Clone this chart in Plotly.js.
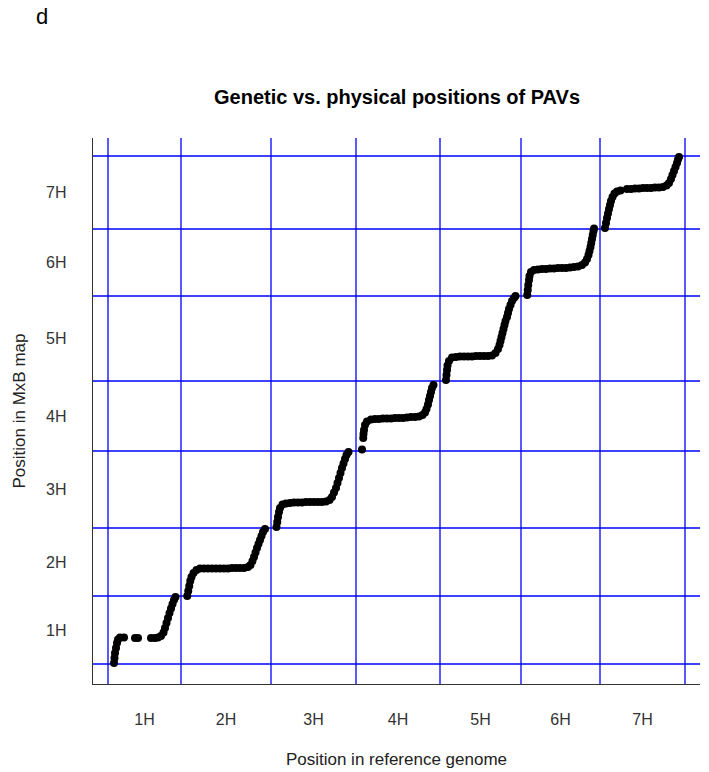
<!DOCTYPE html>
<html>
<head>
<meta charset="utf-8">
<script src="https://cdn.plot.ly/plotly-3.0.1.min.js"></script>
<style>
html,body{margin:0;padding:0;background:#fff;}
#chart{width:709px;height:772px;}
</style>
</head>
<body>
<div id="chart"></div>
<script>
// Chromosome names and lengths (physical in Mb, genetic in cM)
const chromNames = ['1H','2H','3H','4H','5H','6H','7H'];
const physLen = [584, 720, 680, 672, 648, 632, 680];
const genLen  = [136, 136, 154, 140, 170, 134, 146];

// Per-chromosome PAV positions: physical (Mb within chromosome), genetic (cM within chromosome)
const phys1H = [48,52,56,64,72,80,96,128,216,240,344,376,400,424,444,456,468,480,492,504,516,528,540];
const gen1H  = [2,12,22,32,42,49,53,53,52,52,52,52,53,56,63,72,82,92,102,111,120,128,134];

const phys2H = [50,58,66,74,84,100,124,152,184,216,248,280,312,344,376,408,440,472,504,536,556,572,584,596,608,620,632,644,656,672];
const gen2H  = [0,10,20,30,38,46,52,55,55,55,55,55,55,55,55,56,56,56,56,58,62,70,78,87,96,104,112,120,128,134];

const phys3H = [44,50,56,64,72,92,120,152,184,216,248,280,312,344,376,408,440,468,488,504,520,532,544,556,568,580,592,604,620];
const gen3H  = [2,12,22,32,40,47,49,50,51,51,51,52,52,52,52,52,53,56,62,71,80,90,100,110,120,129,138,146,152];

const phys4H = [48,58,60,64,72,88,120,152,184,216,248,280,312,344,376,408,440,472,504,532,552,564,576,584,592,600,608,620];
const gen4H  = [3,26,34,42,52,59,63,64,64,65,65,65,66,66,66,67,68,68,69,72,77,84,93,102,110,118,126,132];

const phys5H = [48,52,56,60,72,96,128,160,192,224,256,288,320,352,384,416,444,464,476,484,492,500,508,516,524,536,544,552,564,576,592,604];
const gen5H  = [2,12,22,31,40,47,48,49,49,49,49,50,50,50,50,51,56,64,72,80,88,96,104,112,120,128,136,144,152,160,166,170];

const phys6H = [50,54,58,64,68,80,104,136,168,200,232,264,296,328,360,392,424,456,488,512,528,540,548,556,562,568,574,580,584];
const gen6H  = [2,12,22,32,40,48,52,53,54,54,55,55,56,56,56,57,58,59,62,67,74,82,90,98,106,114,122,130,135];

const phys7H = [40,48,56,64,72,80,88,100,116,136,164,216,248,280,312,344,376,408,440,472,504,532,552,568,580,592,604,616,624,632];
const gen7H  = [2,12,22,31,40,48,56,64,71,75,77,80,80,81,81,82,82,82,83,83,84,87,92,100,108,116,124,132,139,144];

const physByChrom = [phys1H, phys2H, phys3H, phys4H, phys5H, phys6H, phys7H];
const genByChrom  = [gen1H, gen2H, gen3H, gen4H, gen5H, gen6H, gen7H];

// cumulative offsets
const physStart = [], genStart = [];
let ps = 0, gs = 0;
for (let i = 0; i < chromNames.length; i++) {
  physStart.push(ps); genStart.push(gs);
  ps += physLen[i]; gs += genLen[i];
}
const physTotal = ps, genTotal = gs;
const physBounds = physStart.concat([physTotal]);
const genBounds = genStart.concat([genTotal]);
const physMid = physStart.map((s, i) => s + physLen[i] / 2);
const genMid = genStart.map((s, i) => s + genLen[i] / 2);

const xs = [], ys = [];
for (let i = 0; i < chromNames.length; i++) {
  physByChrom[i].forEach((p, j) => {
    xs.push(physStart[i] + p);
    ys.push(genStart[i] + genByChrom[i][j]);
  });
}

const FONT = 'Liberation Sans, Arial, Helvetica, sans-serif';
const gridColor = '#0000ff';

const shapes = [];
physBounds.forEach(v => shapes.push({type:'line', xref:'x', yref:'paper', x0:v, x1:v, y0:0, y1:1,
  line:{color:gridColor, width:1.3}, layer:'below'}));
genBounds.forEach(v => shapes.push({type:'line', xref:'paper', yref:'y', x0:0, x1:1, y0:v, y1:v,
  line:{color:gridColor, width:1.3}, layer:'below'}));

const trace = {
  type:'scatter', mode:'markers', x: xs, y: ys,
  marker:{color:'#000000', size:8, line:{width:0}},
  hoverinfo:'skip'
};

const layout = {
  width:709, height:772,
  margin:{l:93, r:9, t:138, b:88},
  paper_bgcolor:'#ffffff', plot_bgcolor:'#ffffff',
  showlegend:false,
  font:{family:FONT, color:'#000'},
  title:{text:'<b>Genetic vs. physical positions of PAVs</b>', x:0.56, xanchor:'center', y:0.874, yanchor:'middle',
    font:{family:FONT, size:20, color:'#000'}},
  xaxis:{range:[-120, physTotal + 120], showgrid:false, zeroline:false,
    showline:true, linecolor:'#333', linewidth:1.3,
    tickmode:'array', tickvals:physMid, ticktext:chromNames, ticks:'',
    ticklabelstandoff:20,
    tickfont:{family:FONT, size:16, color:'#333'},
    title:{text:'Position in reference genome', standoff:26, font:{family:FONT, size:17, color:'#222'}},
    automargin:false, fixedrange:true},
  yaxis:{range:[-40, genTotal + 36], showgrid:false, zeroline:false,
    showline:true, linecolor:'#333', linewidth:1.3,
    tickmode:'array', tickvals:genMid, ticktext:chromNames, ticks:'',
    ticklabelstandoff:22,
    tickfont:{family:FONT, size:16, color:'#333'},
    title:{text:'Position in MxB map', standoff:16, font:{family:FONT, size:17, color:'#222'}},
    automargin:false, fixedrange:true},
  shapes: shapes,
  annotations:[{text:'d', xref:'paper', yref:'paper', x:-0.084, y:1.222, xanchor:'center', yanchor:'middle',
    showarrow:false, font:{family:FONT, size:22, color:'#000'}}]
};

Plotly.newPlot('chart', [trace], layout, {displayModeBar:false, staticPlot:true});
</script>
</body>
</html>
